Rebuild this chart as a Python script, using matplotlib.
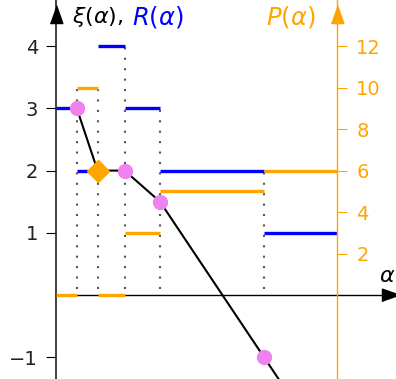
import numpy as np
import matplotlib.pyplot as plt

plt.rcParams['font.family'] = 'DejaVu Sans'
plt.rcParams['mathtext.fontset'] = 'dejavusans'

# break points on the alpha axis and the right (P) axis position
breaks = [1, 2, 3.3, 5, 10]
edges = [0, 1, 2, 3.3, 5, 10, 13.5]
R_vals = [3, 2, 4, 3, 2, 1]
P_vals = [0, 10, 0, 3, 5, 6]
dot_tops = [10/3, 10/3, 4, 3, 2]

# xi(alpha) polyline
xi_x = [1, 2, 3.3, 5, 10, 11]
xi_y = [3, 2, 2, 1.5, -1, -1.5]
pts_x = [1, 3.3, 5, 10]
pts_y = [3, 2, 1.5, -1]
dia_x, dia_y = [2], [2]

left_ticks = [-1, 1, 2, 3, 4]
right_ticks = [2, 4, 6, 8, 10, 12]

orange = '#FFA500'
blue = '#0000FF'

fig = plt.figure(figsize=(3.96, 3.79), dpi=100)
ax = fig.add_axes([0, 0, 1, 1])
ax.set_xlim(-56/20.8, 340/20.8)
ax.set_ylim((295-379)/62.2, 295/62.2)

# scale P onto the xi axis: P = 3*xi
P_on_xi = [p/3 for p in P_vals]

ax.vlines(breaks, 0.1, dot_tops, colors='#555555', linestyles=(0, (1, 4)), lw=1.5, zorder=1)
ax.hlines(R_vals, edges[:-1], edges[1:], colors=blue, lw=2.4, zorder=3)
ax.hlines(P_on_xi, edges[:-1], edges[1:], colors=orange, lw=2.4, zorder=3)
ax.plot(xi_x, xi_y, color='black', lw=1.5, zorder=4)
ax.plot(pts_x, pts_y, 'o', color='violet', ms=10, zorder=5)
ax.plot(dia_x, dia_y, 'D', color=orange, ms=11, zorder=5)

# axes
for s in ['top', 'right']:
    ax.spines[s].set_visible(False)
ax.spines['left'].set_position(('data', 0))
ax.spines['bottom'].set_position(('data', 0))
ax.spines['left'].set_linewidth(1.2)
ax.spines['left'].set_color('#222222')
ax.spines['bottom'].set_linewidth(1.0)
ax.spines['bottom'].set_bounds(0, 16.3)
ax.set_xticks([])
ax.set_yticks(left_ticks)
ax.set_yticklabels(['\u22121', '1', '2', '3', '4'])
ax.tick_params(axis='y', direction='out', length=7, width=0.8, pad=6, labelsize=14,
               labelcolor='#222222')

ax2 = ax.twinx()
ax2.set_ylim(np.array(ax.get_ylim()) * 3)
for s in ['top', 'left', 'bottom']:
    ax2.spines[s].set_visible(False)
ax2.spines['right'].set_position(('data', 13.5))
ax2.spines['right'].set_color(orange)
ax2.spines['right'].set_linewidth(1.0)
ax2.set_yticks(right_ticks)
ax2.tick_params(axis='y', direction='out', length=7, width=0.8, pad=7,
                labelsize=14, colors=orange)

# arrow heads
tri_up = [(-0.7, -1), (0.7, -1), (0, 1)]
tri_right = [(-1, -0.7), (-1, 0.7), (1, 0)]
ax.plot(0, 4.52, marker=tri_up, color='black', ms=13, clip_on=False, zorder=6)
ax.plot(13.5, 4.52, marker=tri_up, color=orange, ms=13, clip_on=False, zorder=6)
ax.plot(16.1, 0, marker=tri_right, color='black', ms=13, clip_on=False, zorder=6)

# labels
fig.text(72/396, 1-17/379, r'$\xi(\alpha)$,', fontsize=16, ha='left', va='center')
fig.text(132/396, 1-17/379, r'$R(\alpha)$', fontsize=17.5, ha='left', va='center', color=blue)
fig.text(266/396, 1-17/379, r'$P(\alpha)$', fontsize=17.5, ha='left', va='center', color=orange)
fig.text(379/396, 1-276/379, r'$\alpha$', fontsize=16, ha='left', va='center')

fig.savefig('out.png', dpi=100)
